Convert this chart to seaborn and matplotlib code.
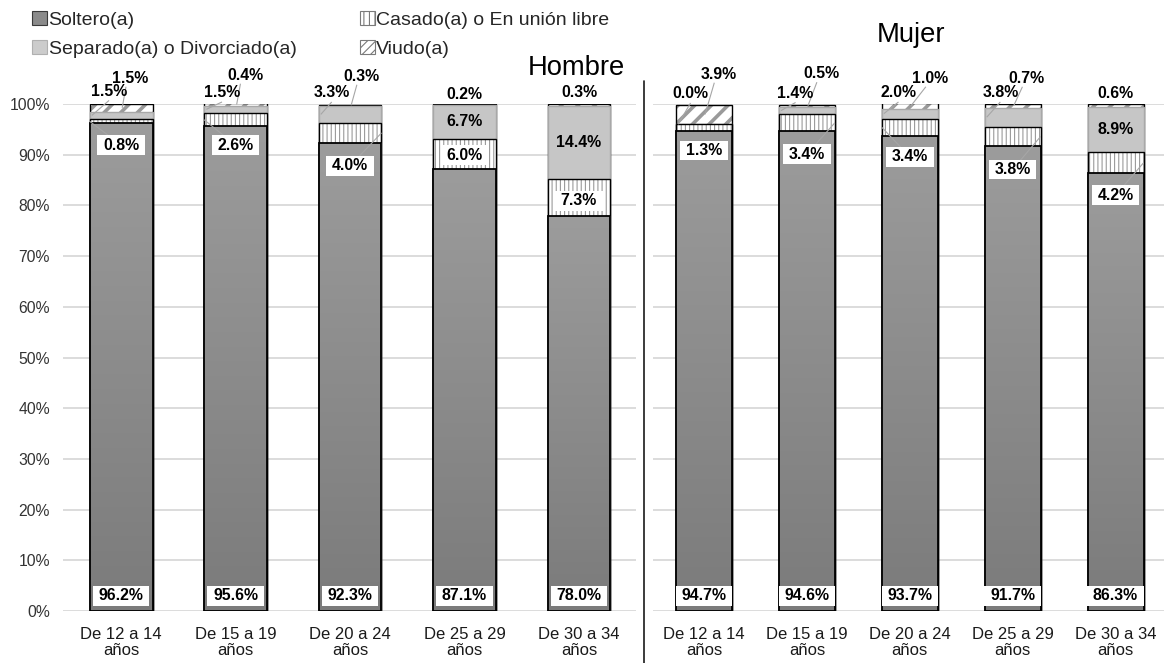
import numpy as np
import matplotlib
matplotlib.use("Agg")
import matplotlib.pyplot as plt
import seaborn as sns
from matplotlib.patches import Patch
from matplotlib.lines import Line2D
from matplotlib.colors import LinearSegmentedColormap

# ---------------- data (percent of each age group) ----------------
age_groups = ["De 12 a 14\naños", "De 15 a 19\naños", "De 20 a 24\naños",
              "De 25 a 29\naños", "De 30 a 34\naños"]
status_names = ["Soltero(a)", "Casado(a) o En unión libre",
                "Separado(a) o Divorciado(a)", "Viudo(a)"]
panel_titles = ["Hombre", "Mujer"]

hombre_soltero = [96.2, 95.6, 92.3, 87.1, 78.0]
hombre_casado = [0.8, 2.6, 4.0, 6.0, 7.3]
hombre_separado = [1.5, 1.5, 3.3, 6.7, 14.4]
hombre_viudo = [1.5, 0.4, 0.3, 0.2, 0.3]

mujer_soltero = [94.7, 94.6, 93.7, 91.7, 86.3]
mujer_casado = [1.3, 3.4, 3.4, 3.8, 4.2]
mujer_separado = [0.0, 1.4, 2.0, 3.8, 8.9]
mujer_viudo = [3.9, 0.5, 1.0, 0.7, 0.6]

# ---------------- style ----------------
sns.set_theme(style="white")
plt.rcParams["font.family"] = ["Liberation Sans", "DejaVu Sans"]
plt.rcParams["hatch.linewidth"] = 0.8

W, H = 1164, 663
fig = plt.figure(figsize=(W / 100, H / 100), dpi=100)

SOL_DARK, SOL_LIGHT = "#7b7b7b", "#9c9c9c"
SEP_FILL, SEP_EDGE = "#c6c6c6", "#a8a8a8"
HATCH_COL = "#9a9a9a"
LEADER_COL = "#a6a6a6"
LABEL_FS = 11.4

# white label box, wider than tall (vertical pad squeezed by mutation_aspect)
BOX = dict(boxstyle="square,pad=0.36", mutation_aspect=0.4,
           facecolor="white", edgecolor="none")


def put_label(ax, x, y, value, boxed):
    txt = f"{value:.1f}%"
    ax.text(x, y, txt, ha="center", va="center", fontsize=LABEL_FS,
            fontweight="bold", color="black", zorder=20, clip_on=False,
            bbox=BOX if boxed else None)


def leader(ax, x0, y0, x1, y1):
    ax.plot([x0, x1], [y0, y1], color=LEADER_COL, lw=0.8, zorder=15,
            clip_on=False, solid_capstyle="butt")


def draw_panel(ax, sol, cas, sep, viu, width, layout):
    sol, cas, sep, viu = map(np.asarray, (sol, cas, sep, viu))
    c1 = sol
    c2 = c1 + cas
    c3 = c2 + sep
    c4 = c3 + viu
    # layers from the top of the stack down, each covering the one above
    layers = [
        (c4, "white", HATCH_COL, "//", "black", 1.0),
        (c3, SEP_FILL, SEP_FILL, None, SEP_EDGE, 1.0),
        (c2, "white", HATCH_COL, "||||", "black", 1.0),
        (c1, SOL_DARK, SOL_DARK, None, "black", 1.3),
    ]
    z = 2
    for k, (top, fill, hcol, hatch, edge, lw) in enumerate(layers):
        n0 = len(ax.patches)
        sns.barplot(x=age_groups, y=top, ax=ax, color=fill, saturation=1,
                    width=width, linewidth=0, edgecolor=hcol, hatch=hatch,
                    errorbar=None, zorder=z)
        new = ax.patches[n0:]
        if k == 0:
            for p in new:
                try:
                    p.set_hatch_linewidth(2.6)
                except AttributeError:
                    pass
        if k == 3:
            # vertical shading of the Soltero(a) bars
            cmap = LinearSegmentedColormap.from_list("sol", [SOL_DARK, SOL_LIGHT])
            grad = np.linspace(0, 1, 256).reshape(-1, 1)
            for p in new:
                x0, w, h = p.get_x(), p.get_width(), p.get_height()
                im = ax.imshow(grad, extent=(x0, x0 + w, 0, h), origin="lower",
                               aspect="auto", cmap=cmap, interpolation="bilinear",
                               zorder=z + 0.5)
                im.set_clip_path(p)
        sns.barplot(x=age_groups, y=top, ax=ax, color=edge, fill=False,
                    saturation=1, width=width, linewidth=lw, errorbar=None,
                    zorder=z + 1)
        z += 2

    half = width / 2
    for i in range(len(age_groups)):
        # Soltero(a): at the base of the bar
        put_label(ax, i, 3.0, sol[i], True)
        # Casado(a)
        put_label(ax, i, layout["cas_y"][i], cas[i], True)
        side = layout["cas_leader"][i]
        if side:
            leader(ax, i + side * half, c1[i] + cas[i] / 2, i, layout["cas_y"][i])
        # Separado(a)
        if layout["sep_inside"][i]:
            put_label(ax, i, c2[i] + sep[i] / 2, sep[i], False)
        else:
            sx, sy = i + layout["sep_dx"][i], layout["sep_y"][i]
            put_label(ax, sx, sy, sep[i], False)
            leader(ax, sx, sy - 1.8, i - half + 0.02, c2[i] + sep[i] / 2)
        # Viudo(a)
        vx, vy = i + layout["viu_dx"][i], layout["viu_y"][i]
        put_label(ax, vx, vy, viu[i], False)
        if layout["viu_leader"][i]:
            leader(ax, vx - 0.04, vy - 1.7, i + 0.01, c3[i] + viu[i] / 2)


hombre_layout = dict(
    cas_y=[91.9, 91.9, 87.8, 89.9, 80.9],
    cas_leader=[-1, -1, 1, 0, 0],
    sep_inside=[False, False, False, True, True],
    sep_dx=[-0.105, -0.118, -0.16, 0, 0],
    sep_y=[102.5, 102.2, 102.2, 0, 0],
    viu_dx=[0.083, 0.083, 0.10, 0, 0],
    viu_y=[105.1, 105.7, 105.5, 101.9, 102.2],
    viu_leader=[True, True, True, False, False],
)
mujer_layout = dict(
    cas_y=[90.8, 90.1, 89.6, 87.1, 82.0],
    cas_leader=[0, 1, -1, 1, 1],
    sep_inside=[False, False, False, False, True],
    sep_dx=[-0.131, -0.11, -0.11, -0.12, 0],
    sep_y=[102.0, 102.1, 102.2, 102.2, 0],
    viu_dx=[0.14, 0.137, 0.196, 0.135, 0],
    viu_y=[105.9, 106.0, 105.1, 105.1, 102.1],
    viu_leader=[True, True, True, True, False],
)

ax_h = fig.add_axes([63 / W, 52 / H, 573 / W, 507 / H])
ax_m = fig.add_axes([653 / W, 52 / H, 511 / W, 507 / H])

draw_panel(ax_h, hombre_soltero, hombre_casado, hombre_separado, hombre_viudo,
           0.55, hombre_layout)
draw_panel(ax_m, mujer_soltero, mujer_casado, mujer_separado, mujer_viudo,
           0.544, mujer_layout)

for ax, xlim in ((ax_h, (-0.507, 4.498)), (ax_m, (-0.496, 4.471))):
    ax.set_xlim(*xlim)
    ax.set_ylim(0, 100)
    ax.set_xlabel("")
    ax.set_ylabel("")
    ax.set_yticks(range(0, 101, 10))
    ax.set_xticks(range(len(age_groups)))
    ax.set_xticklabels(age_groups, fontsize=12, linespacing=1.05, color="#1a1a1a")
    ax.tick_params(axis="x", length=0, pad=11.5)
    ax.tick_params(axis="y", length=0, pad=9.5, labelsize=11.3, labelcolor="#333333")
    ax.grid(axis="y", color="#d9d9d9", lw=1.3)
    ax.grid(axis="x", visible=False)
    ax.set_axisbelow(True)
    ax.set_facecolor("white")
    sns.despine(ax=ax, left=True, bottom=True)

ax_h.set_yticklabels([f"{t}%" for t in range(0, 101, 10)])
ax_m.tick_params(axis="y", labelleft=False)

# panel titles
fig.text(576.5 / W, 1 - 75 / H, panel_titles[0], ha="center", va="baseline",
         fontsize=19.7, color="black")
fig.text(911 / W, 1 - 42 / H, panel_titles[1], ha="center", va="baseline",
         fontsize=19.7, color="black")

# divider between the two panels
fig.add_artist(Line2D([644 / W, 644 / W], [0, 1 - 81 / H], transform=fig.transFigure,
                      color="#1a1a1a", lw=1.2))

# legend (filled column-wise: Soltero / Separado, Casado / Viudo)
handles = [
    Patch(facecolor="#8a8a8a", edgecolor="#3a3a3a", lw=0.8),
    Patch(facecolor="#cccccc", edgecolor="#b0b0b0", lw=0.8),
    Patch(facecolor="white", edgecolor="#7a7a7a", hatch="|||", lw=0.8),
    Patch(facecolor="white", edgecolor="#7a7a7a", hatch="////", lw=0.8),
]
labels = [status_names[0], status_names[2], status_names[1], status_names[3]]
fig.legend(handles, labels, loc="upper left", bbox_to_anchor=(32 / W, 1 - 11 / H),
           ncol=2, frameon=False, fontsize=14, handlelength=0.77, handleheight=0.7,
           handletextpad=0.08, columnspacing=3.25, labelspacing=0.58,
           borderpad=0, borderaxespad=0)

fig.savefig("out.png", dpi=100)
